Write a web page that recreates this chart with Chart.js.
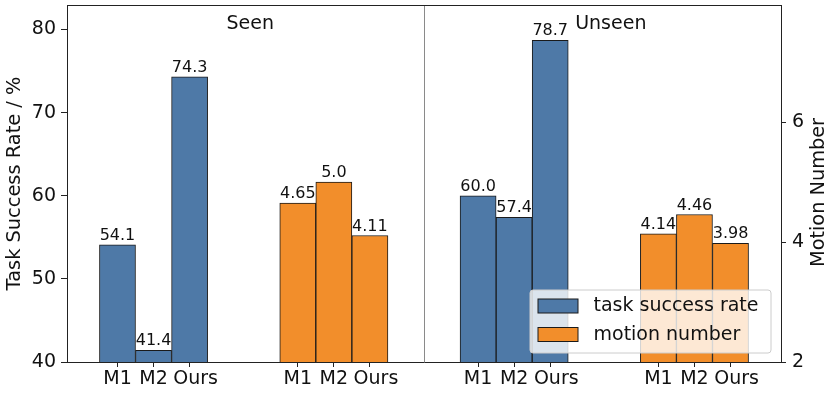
<!DOCTYPE html>
<html>
<head>
<meta charset="utf-8">
<script src="https://cdn.jsdelivr.net/npm/chart.js@4.4.1/dist/chart.umd.min.js"></script>
<style>
  html, body { margin: 0; padding: 0; background: #fff; }
  #wrap { width: 830px; height: 393px; }
</style>
</head>
<body>
<div id="wrap"><canvas id="c" width="830" height="393"></canvas></div>
<script>
// ---- data ----
const groups = ['Seen', 'Unseen'];
const methods = ['M1', 'M2', 'Ours'];
const successRate = [54.1, 41.4, 74.3, 60.0, 57.4, 78.7];     // Seen M1,M2,Ours, Unseen M1,M2,Ours
const motionNumber = [4.65, 5.0, 4.11, 4.14, 4.46, 3.98];     // Seen M1,M2,Ours, Unseen M1,M2,Ours
const leftTicks = [40, 50, 60, 70, 80];
const rightTicks = [2, 4, 6];
const seriesNames = ['task success rate', 'motion number'];

// slot index along x: each group has a rate block and a motion block
function slotOf(g, metric, m) { return g * 10 + metric * 5 + m; }

const blueData = [], orangeData = [], tickSlots = [], tickText = [];
groups.forEach((g, gi) => {
  methods.forEach((m, mi) => {
    blueData.push({ x: slotOf(gi, 0, mi), y: successRate[gi * 3 + mi] });
  });
  methods.forEach((m, mi) => {
    orangeData.push({ x: slotOf(gi, 1, mi), y: motionNumber[gi * 3 + mi] });
  });
  [0, 1].forEach(metric => methods.forEach((m, mi) => {
    tickSlots.push(slotOf(gi, metric, mi)); tickText.push(m);
  }));
});

const BLUE = '#4e79a7';
const ORANGE = '#f28e2b';
const EDGE = '#1a1a1a';
const FONT = '"DejaVu Sans", sans-serif';

function fmt(v, metric) {
  if (metric === 0) return v.toFixed(1);
  return Number.isInteger(v) ? v.toFixed(1) : String(v);
}

const framePlugin = {
  id: 'frame',
  beforeDatasetsDraw(chart) {
    const ctx = chart.ctx;
    ctx.save();
    ctx.font = '16px ' + FONT;
    ctx.fillStyle = '#111';
    ctx.textAlign = 'center';
    ctx.textBaseline = 'alphabetic';
    chart.data.datasets.forEach((ds, di) => {
      const meta = chart.getDatasetMeta(di);
      meta.data.forEach((bar, i) => {
        ctx.fillText(fmt(ds.data[i].y, di), bar.x, bar.y - 5);
      });
    });
    ctx.restore();
  },
  afterDatasetsDraw(chart) {
    const ctx = chart.ctx;
    const a = chart.chartArea;
    const xs = chart.scales.x;
    ctx.save();
    const xd = Math.round(xs.getPixelForValue(slotOf(1, 0, 0) - 1.5)) + 0.5;
    ctx.strokeStyle = '#8a8a8a';
    ctx.lineWidth = 1;
    ctx.beginPath(); ctx.moveTo(xd, a.top); ctx.lineTo(xd, a.bottom); ctx.stroke();
    ctx.strokeStyle = '#222';
    ctx.beginPath(); ctx.moveTo(a.left, a.top + 0.5); ctx.lineTo(a.right, a.top + 0.5); ctx.stroke();
    ctx.font = '19px ' + FONT;
    ctx.fillStyle = '#111';
    ctx.textAlign = 'center';
    ctx.textBaseline = 'alphabetic';
    groups.forEach((g, gi) => {
      ctx.fillText(g, xs.getPixelForValue(slotOf(gi, 0, 0) + 3.68), a.top + 24);
    });
    ctx.save();
    ctx.translate(819, (a.top + a.bottom) / 2 + 9);
    ctx.rotate(-Math.PI / 2);
    ctx.textBaseline = 'middle';
    ctx.font = '19.3px ' + FONT;
    ctx.fillText('Motion Number', 0, 0);
    ctx.restore();
    ctx.restore();
  },
  afterDraw(chart) {
    const ctx = chart.ctx;
    const a = chart.chartArea;
    const w = 241, h = 63;
    const x0 = a.right - 10.5 - w, y0 = a.bottom - 9.5 - h;
    ctx.save();
    ctx.fillStyle = 'rgba(255,255,255,0.8)';
    ctx.strokeStyle = '#cccccc';
    ctx.lineWidth = 1;
    ctx.beginPath();
    ctx.roundRect(x0 + 0.5, y0 + 0.5, w, h, 3);
    ctx.fill(); ctx.stroke();
    ctx.font = '19px ' + FONT;
    ctx.textBaseline = 'middle';
    ctx.textAlign = 'left';
    chart.data.datasets.forEach((ds, i) => {
      const yy = y0 + 9 + i * 28.5;
      ctx.fillStyle = ds.backgroundColor;
      ctx.fillRect(x0 + 8.5, yy + 0.5, 40, 14);
      ctx.strokeStyle = EDGE;
      ctx.strokeRect(x0 + 8.5, yy + 0.5, 40, 14);
      ctx.fillStyle = '#111';
      ctx.fillText(ds.label, x0 + 64, yy + 8);
    });
    ctx.restore();
  }
};

new Chart(document.getElementById('c'), {
  type: 'bar',
  data: {
    datasets: [
      { label: seriesNames[0], data: blueData, yAxisID: 'y', backgroundColor: BLUE,
        borderColor: EDGE, borderWidth: 1, borderSkipped: false },
      { label: seriesNames[1], data: orangeData, yAxisID: 'y2', backgroundColor: ORANGE,
        borderColor: EDGE, borderWidth: 1, borderSkipped: false }
    ]
  },
  options: {
    responsive: false,
    animation: false,
    events: [],
    grouped: false,
    barPercentage: 1,
    categoryPercentage: 1,
    layout: { padding: { top: 5, left: 0, right: 0, bottom: 0 } },
    plugins: { legend: { display: false }, tooltip: { enabled: false } },
    scales: {
      x: {
        type: 'linear',
        offset: false,
        min: -1.4, max: 18.4,
        afterBuildTicks: s => { s.ticks = tickSlots.map(v => ({ value: v })); },
        afterFit: s => { s.height = 31; s.paddingLeft = 0; s.paddingRight = 0; },
        ticks: {
          autoSkip: false, maxRotation: 0, padding: 1,
          color: '#111', font: { family: FONT, size: 19 },
          callback: (v, i) => (tickText[i] === 'Ours' ? '\u00a0\u00a0' : '') + tickText[i]
        },
        grid: { offset: false, drawOnChartArea: false, drawTicks: true, tickLength: 5, color: '#222' },
        border: { display: true, color: '#222', width: 1 }
      },
      y: {
        position: 'left', min: 40, max: 82.95,
        afterBuildTicks: s => { s.ticks = leftTicks.map(v => ({ value: v })); },
        afterFit: s => { s.width = 67; s.paddingTop = 0; s.paddingBottom = 0; },
        ticks: { color: '#111', padding: 5, font: { family: FONT, size: 19 } },
        grid: { drawOnChartArea: false, drawTicks: true, tickLength: 6, color: '#222' },
        border: { display: true, color: '#222', width: 1 },
        title: { display: true, text: 'Task Success Rate / %', color: '#111',
                 font: { family: FONT, size: 19.4 }, padding: { top: 3, bottom: 0 } }
      },
      y2: {
        position: 'right', min: 2, max: 7.955,
        afterBuildTicks: s => { s.ticks = rightTicks.map(v => ({ value: v })); },
        afterFit: s => { s.width = 49; s.paddingTop = 0; s.paddingBottom = 0; },
        ticks: { color: '#111', padding: 6, font: { family: FONT, size: 19 } },
        grid: { drawOnChartArea: false, drawTicks: true, tickLength: 5, color: '#222' },
        border: { display: true, color: '#222', width: 1 }
      }
    }
  },
  plugins: [framePlugin]
});
</script>
</body>
</html>
